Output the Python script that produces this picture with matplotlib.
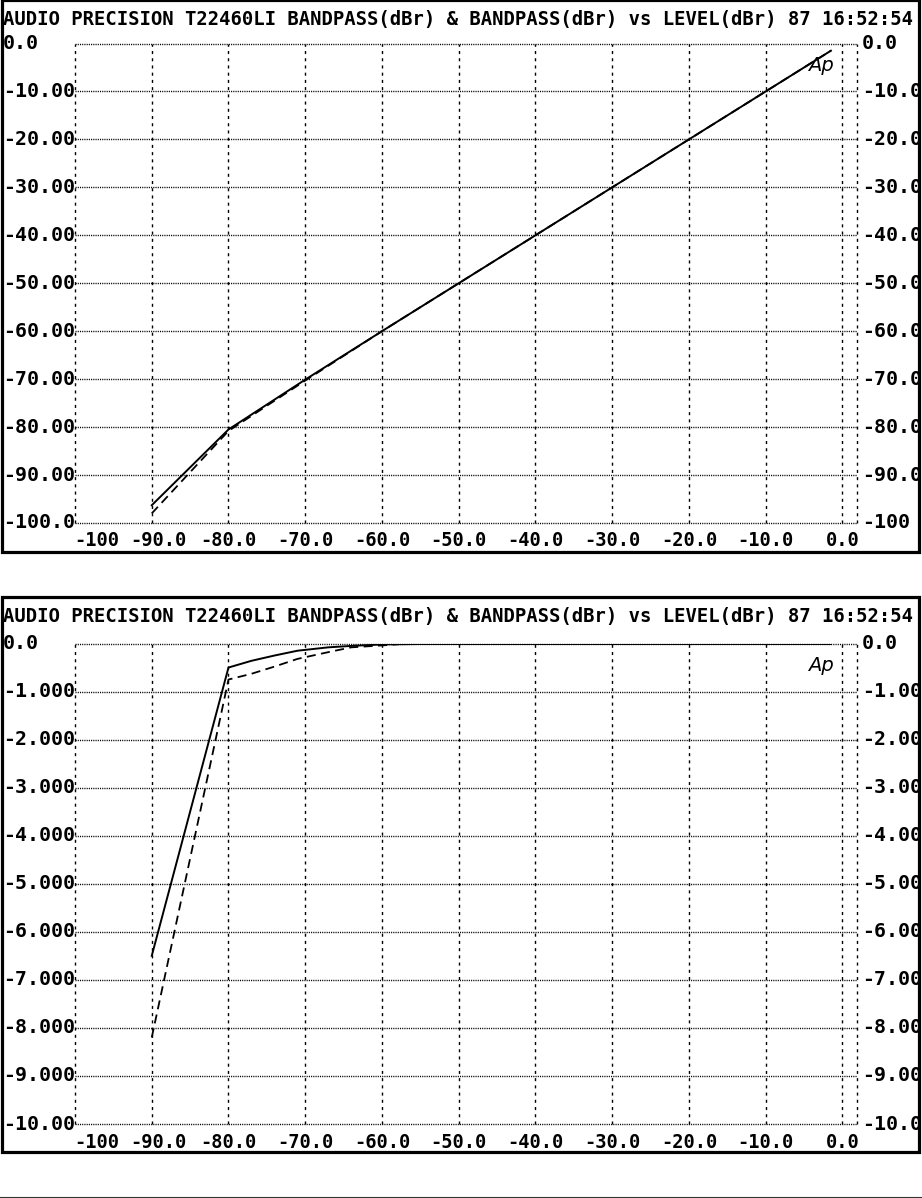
import matplotlib
matplotlib.use("Agg")
import matplotlib.pyplot as plt
from matplotlib.patches import Rectangle
from matplotlib.lines import Line2D
import matplotlib.transforms as mtransforms

# ---------------- data ----------------
title_text = "AUDIO PRECISION T22460LI BANDPASS(dBr) & BANDPASS(dBr) vs LEVEL(dBr) 87 16:52:54"

x_ticks = [-100, -90, -80, -70, -60, -50, -40, -30, -20, -10, 0]
x_tick_labels = ["-100", "-90.0", "-80.0", "-70.0", "-60.0", "-50.0",
                 "-40.0", "-30.0", "-20.0", "-10.0", "0.0"]

# top panel: output level vs input level
top_level = [-90, -80, -70, -60, -50, -40, -30, -20, -10, -1.5]
top_solid = [-96.3, -80.5, -70.1, -60.0, -50.0, -40.0, -30.0, -20.0, -10.0, -1.5]
top_dashed = [-98.0, -80.8, -70.3, -60.0, -50.0, -40.0, -30.0, -20.0, -10.0, -1.5]
top_yticks = [0, -10, -20, -30, -40, -50, -60, -70, -80, -90, -100]
top_left_labels = ["0.0", "-10.00", "-20.00", "-30.00", "-40.00", "-50.00",
                   "-60.00", "-70.00", "-80.00", "-90.00", "-100.0"]
top_right_labels = ["0.0", "-10.0", "-20.0", "-30.0", "-40.0", "-50.0",
                    "-60.0", "-70.0", "-80.0", "-90.0", "-100"]

# bottom panel: deviation (dBr) vs level
bot_level = [-90, -80, -77, -74, -71, -67, -64, -60, -55, -50, -40, -30, -20, -10, -1.5]
bot_solid = [-6.5, -0.5, -0.36, -0.25, -0.15, -0.08, -0.05, -0.02, -0.01, -0.01,
             -0.01, -0.01, -0.01, -0.01, -0.01]
bot_dashed = [-8.2, -0.75, -0.63, -0.48, -0.32, -0.18, -0.08, -0.04, 0.02, 0.0,
              0.0, 0.0, 0.02, 0.02, 0.02]
bot_yticks = [0, -1, -2, -3, -4, -5, -6, -7, -8, -9, -10]
bot_left_labels = ["0.0", "-1.000", "-2.000", "-3.000", "-4.000", "-5.000",
                   "-6.000", "-7.000", "-8.000", "-9.000", "-10.00"]
bot_right_labels = ["0.0", "-1.00", "-2.00", "-3.00", "-4.00", "-5.00",
                    "-6.00", "-7.00", "-8.00", "-9.00", "-10.0"]

# ---------------- layout ----------------
W, H = 922, 1198
fig = plt.figure(figsize=(W / 100, H / 100), dpi=100)
fig.patch.set_facecolor("white")

MONO = "DejaVu Sans Mono"
XMAX = 1.9


def fx(px):
    return px / W


def fy(py):
    return 1 - py / H


def add_axes_px(x0, y0, x1, y1):
    return fig.add_axes([fx(x0), fy(y1), fx(x1) - fx(x0), (y1 - y0) / H])


def panel(box_top, box_bot, ax_top, ax_bot, ylim, yticks, left_labels, right_labels,
          lvl, solid, dashed):
    # outer border
    fig.add_artist(Rectangle((fx(1.5), fy(box_bot)), fx(919) - fx(1.5),
                             (box_bot - box_top) / H, transform=fig.transFigure,
                             fill=False, lw=2.3, ec="black"))
    # title
    fig.text(fx(3), fy(box_top + 19), title_text, fontfamily=MONO, fontweight="bold",
             fontsize=13.6, ha="left", va="center")

    ax = add_axes_px(75, ax_top, 857, ax_bot)
    ax.set_xlim(-100, XMAX)
    ax.set_ylim(*ylim)
    ax.set_xticks(x_ticks)
    ax.set_yticks(yticks)
    ax.tick_params(length=0, labelbottom=False, labelleft=False)
    for s in ax.spines.values():
        s.set_visible(False)
    vstyle = dict(color="black", lw=1.0, ls=(0, (2.2, 3.0)))
    hstyle = dict(color="black", lw=1.0, ls=(0, (0.8, 0.8)))
    ax.grid(True, axis="x", **vstyle)
    ax.grid(True, axis="y", **hstyle)
    for gl in ax.get_xgridlines() + ax.get_ygridlines():
        gl.set_clip_on(False)
    ax.axvline(XMAX, clip_on=False, **vstyle)

    ax.plot(lvl, solid, color="black", lw=1.4, ls="-", zorder=3)
    ax.plot(lvl, dashed, color="black", lw=1.3, ls=(0, (5, 3)), zorder=3)

    # y labels (left/right) positioned by data coordinates
    trL = mtransforms.blended_transform_factory(fig.transFigure, ax.transData)
    for v, lt, rt in zip(yticks, left_labels, right_labels):
        fig.text(fx(3), v, lt, transform=trL, fontfamily=MONO, fontweight="bold",
                 fontsize=14.3, ha="left", va="center")
        fig.text(fx(862), v, rt, transform=trL, fontfamily=MONO, fontweight="bold",
                 fontsize=14.3, ha="left", va="center")

    # x labels
    trX = mtransforms.blended_transform_factory(ax.transData, fig.transFigure)
    shifts = {-100: 2.8, -90: 0.9}
    for v, t in zip(x_ticks, x_tick_labels):
        fig.text(v + shifts.get(v, 0.0), fy(ax_bot + 18), t, transform=trX,
                 fontfamily=MONO, fontweight="bold", fontsize=13.5,
                 ha="center", va="center")

    # Ap logo
    ax.text(-2.8, ylim[1] - (ylim[1] - ylim[0]) * 0.045, "Ap", fontfamily="DejaVu Sans",
            fontstyle="italic", fontweight="light", fontsize=14, ha="center",
            va="center", color="black", zorder=4)
    return ax


panel(0, 552, 43.5, 523, (-100, 0), top_yticks, top_left_labels, top_right_labels,
      top_level, top_solid, top_dashed)
panel(597, 1152, 643.5, 1124, (-10, 0), bot_yticks, bot_left_labels, bot_right_labels,
      bot_level, bot_solid, bot_dashed)

# page line at bottom
fig.add_artist(Line2D([0, 1], [fy(1197), fy(1197)], transform=fig.transFigure,
                      color="#333333", lw=0.8))

fig.savefig("out.png", dpi=100, facecolor="white")
